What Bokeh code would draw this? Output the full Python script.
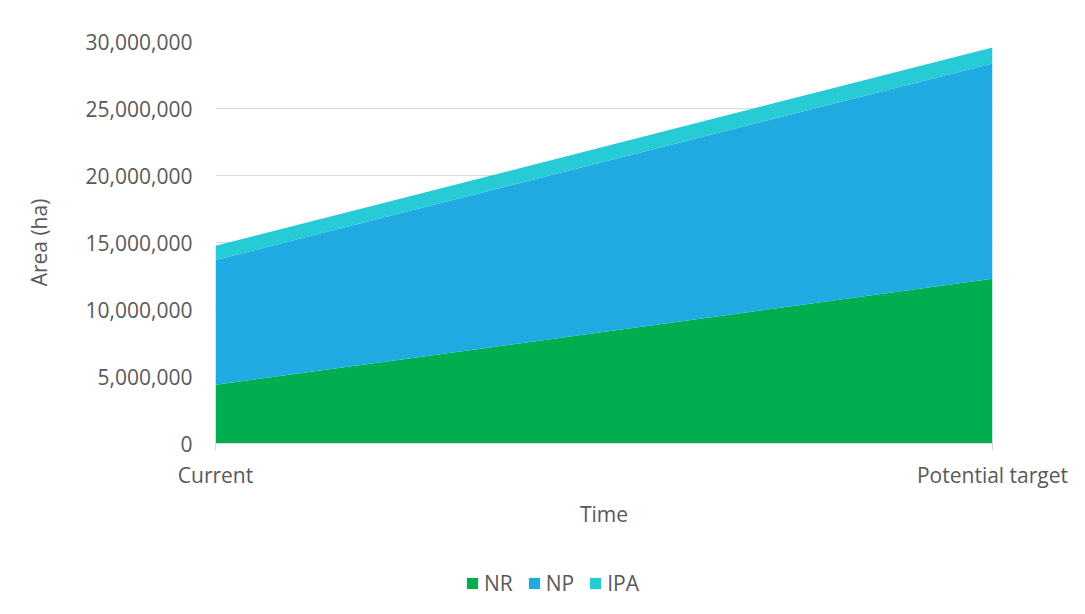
from bokeh.plotting import figure
from bokeh.layouts import column
from bokeh.models import (ColumnDataSource, Range1d, FixedTicker, NumeralTickFormatter,
                          Legend, LegendItem)
from bokeh.embed import file_html
from bokeh.resources import INLINE

# ---- data ----
categories = ["Current", "Potential target"]
x_pos = [0, 1]
NR = [4380000, 12290000]
NP = [9310000, 16070000]
IPA = [1060000, 1190000]
y_ticks = [0, 5000000, 10000000, 15000000, 20000000, 25000000, 30000000]

series = ["NR", "NP", "IPA"]
colors = ["#00AE4F", "#1FAAE2", "#26CBD5"]

source = ColumnDataSource(dict(x=x_pos, NR=NR, NP=NP, IPA=IPA))

FONT = "Open Sans"
TXT = "#595959"
GRID = "#d9d9d9"

p = figure(frame_width=777, frame_height=402, output_backend="svg", toolbar_location=None,
           x_range=Range1d(0, 1), y_range=Range1d(0, 30000000),
           min_border_left=215, min_border_right=92, min_border_top=41,
           min_border_bottom=100)
p.outline_line_color = None
p.background_fill_color = "white"
p.border_fill_color = "white"

renderers = p.varea_stack(stackers=series, x="x", color=colors, source=source)

# grid
p.xgrid.grid_line_color = None
p.ygrid.grid_line_color = GRID
p.ygrid.grid_line_width = 1
p.ygrid.ticker = FixedTicker(ticks=y_ticks)

# y axis
p.yaxis.ticker = FixedTicker(ticks=y_ticks)
p.yaxis.formatter = NumeralTickFormatter(format="0,0")
p.yaxis.axis_line_color = None
p.yaxis.major_tick_line_color = None
p.yaxis.minor_tick_line_color = None
p.yaxis.major_label_standoff = 17
p.yaxis.major_label_text_font = FONT
p.yaxis.major_label_text_font_size = "21px"
p.yaxis.major_label_text_color = TXT
p.yaxis.axis_label = "Area (ha)"
p.yaxis.axis_label_text_font = FONT
p.yaxis.axis_label_text_font_size = "21px"
p.yaxis.axis_label_text_font_style = "normal"
p.yaxis.axis_label_text_color = TXT
p.yaxis.axis_label_standoff = 30

# x axis
p.xaxis.ticker = FixedTicker(ticks=x_pos)
p.xaxis.major_label_overrides = {x_pos[i]: categories[i] for i in range(len(x_pos))}
p.xaxis.axis_line_color = GRID
p.xaxis.axis_line_width = 1
p.xaxis.major_tick_line_color = GRID
p.xaxis.major_tick_out = 7
p.xaxis.major_tick_in = 0
p.xaxis.minor_tick_line_color = None
p.xaxis.major_label_standoff = 10
p.xaxis.major_label_text_font = FONT
p.xaxis.major_label_text_font_size = "21px"
p.xaxis.major_label_text_color = TXT
p.xaxis.axis_label = "Time"
p.xaxis.axis_label_text_font = FONT
p.xaxis.axis_label_text_font_size = "21px"
p.xaxis.axis_label_text_font_style = "normal"
p.xaxis.axis_label_text_color = TXT
p.xaxis.axis_label_standoff = 8

# ---- legend strip (separate figure below the chart) ----
lg = figure(width=1084, height=70, output_backend="svg", toolbar_location=None,
            x_range=Range1d(0, 1), y_range=Range1d(0, 1),
            x_axis_type=None, y_axis_type=None,
            min_border_left=0, min_border_right=0, min_border_top=0, min_border_bottom=0)
lg.outline_line_color = None
lg.grid.grid_line_color = None
lg.background_fill_color = "white"
lg.border_fill_color = "white"
lg_renderers = lg.varea_stack(stackers=series, x="x", color=colors, source=source)
for r in lg_renderers:
    r.visible = False

legend = Legend(items=[LegendItem(label=s, renderers=[r]) for s, r in zip(series, lg_renderers)],
                orientation="horizontal", location=(250, 16))
legend.label_text_font = FONT
legend.label_text_font_size = "21px"
legend.label_text_color = TXT
legend.glyph_width = 14
legend.glyph_height = 14
legend.spacing = 14
legend.label_standoff = 5
legend.border_line_color = None
legend.background_fill_alpha = 0
legend.padding = 0
legend.margin = 0
lg.add_layout(legend, "center")

layout = column(p, lg, spacing=0)

open("out.html", "w").write(file_html(layout, INLINE))
